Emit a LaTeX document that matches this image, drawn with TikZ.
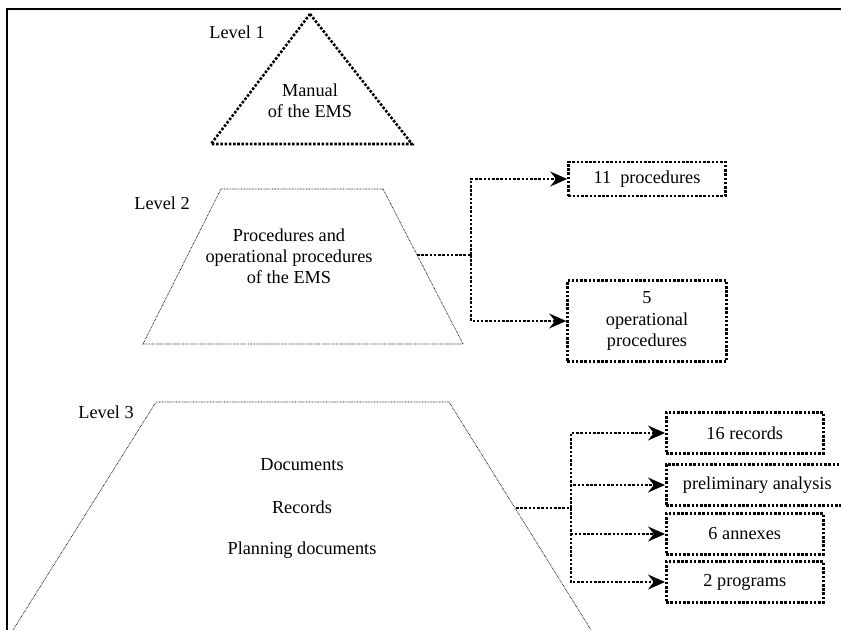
\documentclass[tikz,border=0pt]{standalone}
\usepackage{fontspec}
\setmainfont{Liberation Serif}
\usetikzlibrary{arrows.meta}

\begin{document}
\begin{tikzpicture}[x=0.025cm, y=-0.025cm,
  every node/.style={font=\rmfamily\fontsize{13}{15}\selectfont, align=center, inner sep=0pt},
  fatdots/.style={line width=1.8pt, dash pattern=on 1.8pt off 1.2pt},
  thindots/.style={line width=0.5pt, dash pattern=on 0.5pt off 0.6pt},
  box/.style={draw, fatdots, minimum width=3.925cm, minimum height=1.025cm},
  link/.style={fatdots, -{Stealth[length=12pt, width=10.5pt, inset=4pt]}}]
  \useasboundingbox (0,0) rectangle (841,630);
  \draw[line width=1.1pt] (7,630) -- (7,9) -- (841,9);
  % Level 1
  \draw[fatdots] (310,14) -- (412,144) -- (211,144) -- cycle;
  \node (lv1) at (237,32) {Level 1};
  \node (man) at (310,101) {Manual\\of the EMS};
  % Level 2
  \draw[thindots] (221,189) -- (383,189) -- (463,344) -- (143,344) -- cycle;
  \node (lv2) at (162,203) {Level 2};
  \node (proc) at (289,256) {Procedures and\\operational procedures\\of the EMS};
  \coordinate (t2) at (417,255);
  \coordinate (j2) at (471,255);
  \node[box, minimum height=0.85cm] (p11) at (647,179) {11~ procedures};
  \node[box, minimum width=3.975cm, minimum height=2.025cm] (p5) at (647,321) {5\\operational\\procedures};
  \draw[fatdots] (t2) -- (j2);
  \draw[link] (j2) |- (p11);
  \draw[link] (j2) |- (p5);
  % Level 3
  \draw[thindots] (13,630) -- (156,402) -- (449,402) -- (591,630);
  \node (lv3) at (106,412) {Level 3};
  \node (docs) at (302,465) {Documents};
  \node (recs) at (302,507) {Records};
  \node (plan) at (302,550) {Planning documents};
  \coordinate (t3) at (516,508);
  \coordinate (j3) at (571,508);
  \draw[fatdots] (t3) -- (j3);
  \foreach \nm/\yy/\w/\txt in {rec/433/157/16 records, ana/485/182/preliminary analysis,
                               ann/534/157/6 annexes, prg/582/157/2 programs} {
    \node[box, anchor=west, minimum width=\w*0.025cm] (\nm) at (665,\yy) {\txt};
    \draw[link] (j3) |- (\nm);
  }
\end{tikzpicture}
\end{document}
